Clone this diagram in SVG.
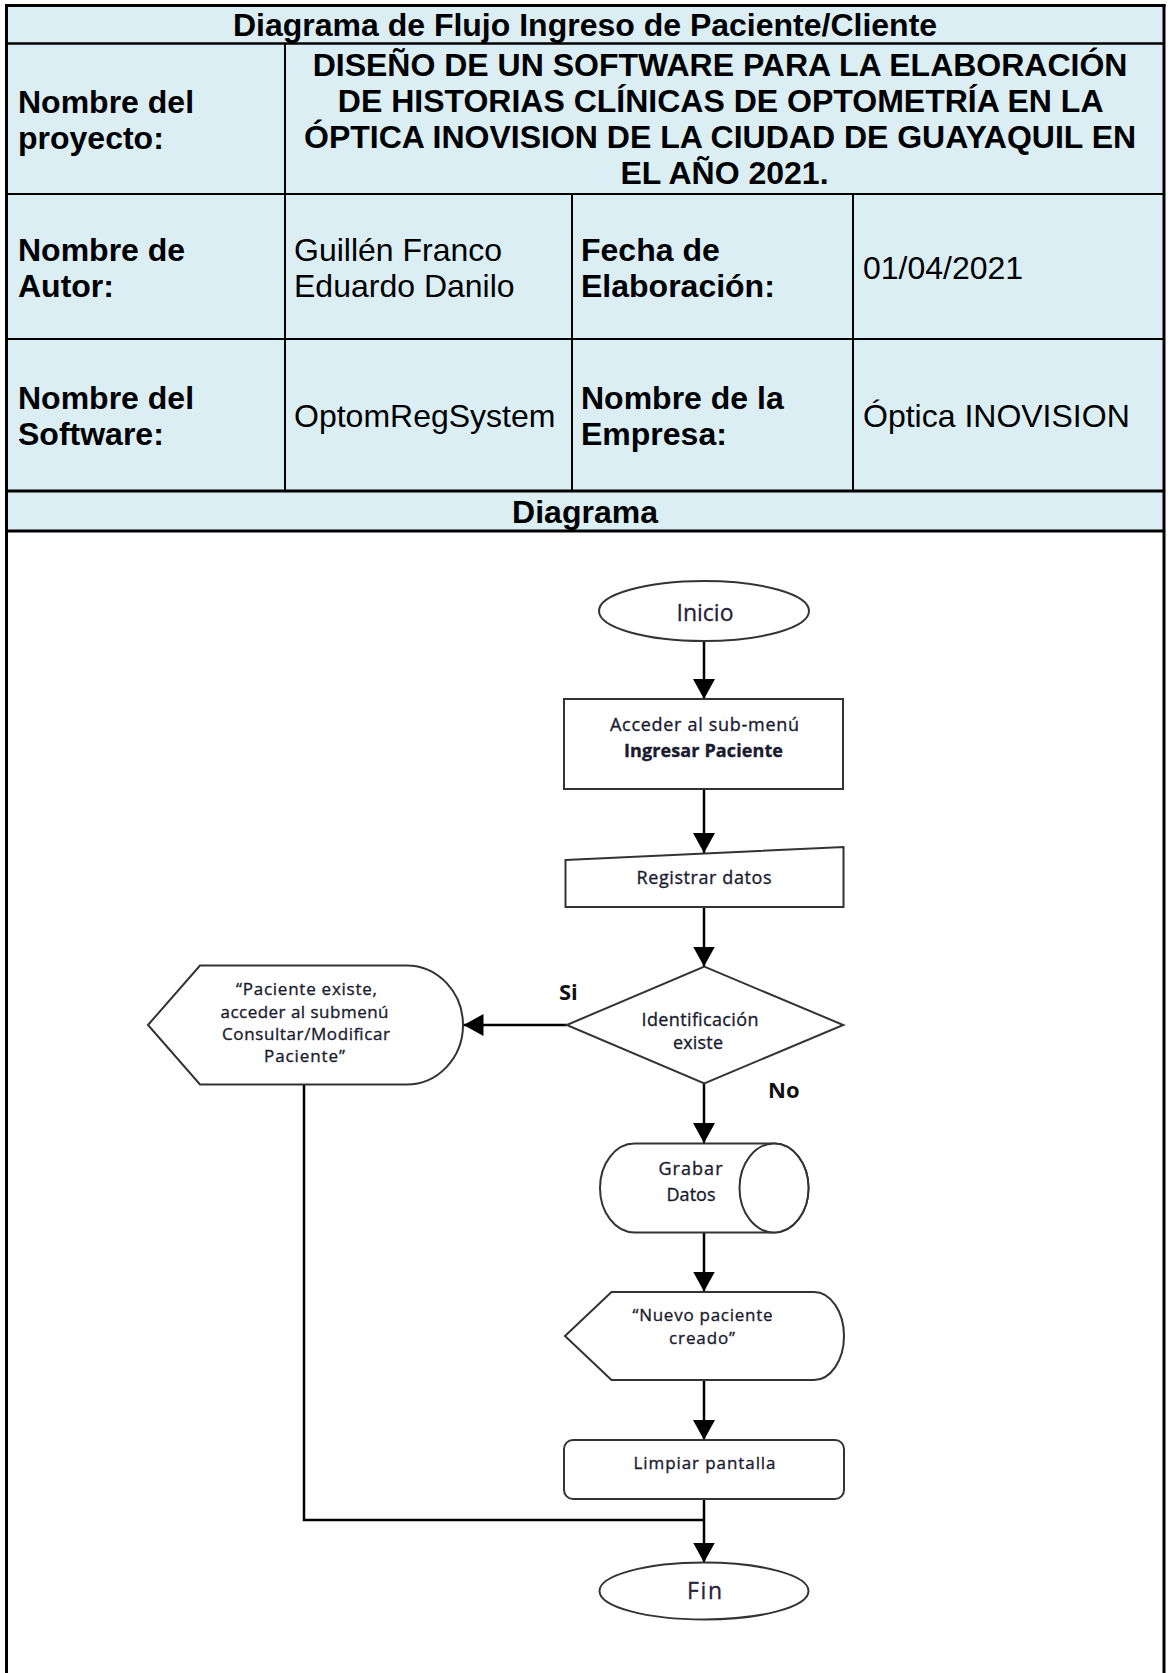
<svg xmlns="http://www.w3.org/2000/svg" width="1168" height="1673" viewBox="0 0 1168 1673">
  <style>
    .cell { fill: #DAEEF3; }
    .grid { stroke: #000; stroke-width: 2; fill: none; }
    .outer { stroke: #000; stroke-width: 3; fill: none; }
    .hb { font-family: "Liberation Sans", Arial, sans-serif; font-size: 32px; font-weight: bold; fill: #000; }
    .hr { font-family: "Liberation Sans", Arial, sans-serif; font-size: 32px; fill: #000; }
    .shape { fill: #fff; stroke: #333; stroke-width: 2; }
    .lbl { font-family: "Open Sans", "Noto Sans", sans-serif; font-size: 17px; fill: #1b1b2f; stroke: #1b1b2f; stroke-width: 0.35; text-anchor: middle; }
    .lbl17 { font-family: "Open Sans", "Noto Sans", sans-serif; font-size: 18px; fill: #1b1b2f; stroke: #1b1b2f; stroke-width: 0.35; text-anchor: middle; }
    .term { font-family: "Open Sans", "Noto Sans", sans-serif; font-size: 23px; fill: #2a2238; stroke: #2a2238; stroke-width: 0.3; text-anchor: middle; }
    .yn { font-family: "Open Sans", "Noto Sans", sans-serif; font-size: 22px; font-weight: bold; fill: #111; }
    .conn { stroke: #000; stroke-width: 2.5; fill: none; }
  </style>
  <defs>
    <marker id="arrow" viewBox="0 0 20 22" refX="20" refY="11" markerWidth="20" markerHeight="22" markerUnits="userSpaceOnUse" orient="auto">
      <path d="M0,0 L20,11 L0,22 Z" fill="#000"/>
    </marker>
  </defs>

  <rect width="1168" height="1673" fill="#fff"/>

  <!-- header table -->
  <g id="header-table">
    <rect class="cell" x="6.5" y="5.5" width="1157.5" height="525.5"/>
    <line class="grid" x1="6.5" y1="43.5" x2="1164" y2="43.5" style="stroke-width:2.5"/>
    <line class="grid" x1="6.5" y1="194" x2="1164" y2="194"/>
    <line class="grid" x1="6.5" y1="339" x2="1164" y2="339"/>
    <line class="outer" x1="6.5" y1="491" x2="1164" y2="491"/>
    <line class="outer" x1="6.5" y1="531" x2="1164" y2="531"/>
    <line class="grid" x1="285" y1="43.5" x2="285" y2="491"/>
    <line class="grid" x1="572" y1="194" x2="572" y2="491"/>
    <line class="grid" x1="853" y1="194" x2="853" y2="491"/>
    <line class="outer" x1="5" y1="5.5" x2="1165.5" y2="5.5"/>
    <line class="outer" x1="6.5" y1="4" x2="6.5" y2="1673"/>
    <line class="outer" x1="1164" y1="4" x2="1164" y2="1673"/>

    <text class="hb" x="585" y="35.5" text-anchor="middle">Diagrama de Flujo Ingreso de Paciente/Cliente</text>

    <text class="hb" x="18" y="113">Nombre del</text>
    <text class="hb" x="18" y="149">proyecto:</text>
    <text class="hb" text-anchor="middle">
      <tspan x="724.5" y="76">DISEÑO DE UN SOFTWARE PARA LA ELABORACIÓN</tspan>
      <tspan x="724.5" y="112">DE HISTORIAS CLÍNICAS DE OPTOMETRÍA EN LA</tspan>
      <tspan x="724.5" y="148">ÓPTICA INOVISION DE LA CIUDAD DE GUAYAQUIL EN</tspan>
      <tspan x="724.5" y="184">EL AÑO 2021.</tspan>
    </text>

    <text class="hb" x="18" y="261">Nombre de</text>
    <text class="hb" x="18" y="297">Autor:</text>
    <text class="hr" x="294" y="261">Guillén Franco</text>
    <text class="hr" x="294" y="297">Eduardo Danilo</text>
    <text class="hb" x="581" y="261">Fecha de</text>
    <text class="hb" x="581" y="297">Elaboración:</text>
    <text class="hr" x="863" y="279">01/04/2021</text>

    <text class="hb" x="18" y="408.5">Nombre del</text>
    <text class="hb" x="18" y="444.5">Software:</text>
    <text class="hr" x="294" y="427">OptomRegSystem</text>
    <text class="hb" x="581" y="408.5">Nombre de la</text>
    <text class="hb" x="581" y="444.5">Empresa:</text>
    <text class="hr" x="863" y="427">Óptica INOVISION</text>

    <text class="hb" x="585" y="523" text-anchor="middle">Diagrama</text>
  </g>

  <!-- flowchart connectors -->
  <g id="connectors">
    <path class="conn" d="M704,641 V699" marker-end="url(#arrow)"/>
    <path class="conn" d="M704,789 V853" marker-end="url(#arrow)"/>
    <path class="conn" d="M704,907 V966.5" marker-end="url(#arrow)"/>
    <path class="conn" d="M566.7,1025 H463.5" marker-end="url(#arrow)"/>
    <path class="conn" d="M704,1083.5 V1143" marker-end="url(#arrow)"/>
    <path class="conn" d="M704,1232.5 V1291.5" marker-end="url(#arrow)"/>
    <path class="conn" d="M704,1380 V1440" marker-end="url(#arrow)"/>
    <path class="conn" d="M704,1499 V1562.5" marker-end="url(#arrow)"/>
    <path class="conn" d="M304,1084.5 V1520 H704"/>
    <text class="yn" x="559" y="1000">Si</text>
    <text class="yn" x="768" y="1098">No</text>
  </g>

  <!-- flowchart nodes -->
  <g id="node-inicio">
    <ellipse class="shape" cx="704" cy="611" rx="105" ry="30"/>
    <text class="term" x="705" y="620.5" textLength="57" lengthAdjust="spacing">Inicio</text>
  </g>

  <g id="node-acceder">
    <rect class="shape" x="564" y="699" width="279" height="90"/>
    <text class="lbl17" x="704.5" y="730.5" textLength="189" lengthAdjust="spacing">Acceder al sub-menú</text>
    <text class="lbl17" x="703.5" y="757" font-weight="bold" textLength="159" lengthAdjust="spacing">Ingresar Paciente</text>
  </g>

  <g id="node-registrar">
    <polygon class="shape" points="565.5,860 843.5,847 843.5,907 565.5,907"/>
    <text class="lbl17" x="704" y="884" textLength="135" lengthAdjust="spacing">Registrar datos</text>
  </g>

  <g id="node-decision">
    <polygon class="shape" points="704.3,966.7 843.3,1025 704.3,1083.3 566.7,1025"/>
    <text class="lbl17" x="700" y="1026" textLength="117" lengthAdjust="spacing">Identificación</text>
    <text class="lbl17" x="698" y="1048.5" textLength="50" lengthAdjust="spacing">existe</text>
  </g>

  <g id="node-existe">
    <path class="shape" d="M148,1025 L200,965.5 L406.5,965.5 A56.5 59.5 0 0 1 406.5,1084.5 L200,1084.5 Z"/>
    <text class="lbl" x="306.5" y="995" textLength="141" lengthAdjust="spacing">“Paciente existe,</text>
    <text class="lbl" x="304.5" y="1017.5" textLength="168" lengthAdjust="spacing">acceder al submenú</text>
    <text class="lbl" x="306" y="1040" textLength="168" lengthAdjust="spacing">Consultar/Modificar</text>
    <text class="lbl" x="304.5" y="1062" textLength="81" lengthAdjust="spacing">Paciente”</text>
  </g>

  <g id="node-grabar">
    <path class="shape" d="M634.5,1143.5 L774,1143.5 A34.5 44.5 0 0 1 774,1232.5 L634.5,1232.5 A34.5 44.5 0 0 1 634.5,1143.5 Z"/>
    <ellipse class="shape" cx="774" cy="1188" rx="34.5" ry="44.5"/>
    <text class="lbl17" x="690.5" y="1174.5" textLength="64" lengthAdjust="spacing">Grabar</text>
    <text class="lbl17" x="691" y="1201" textLength="49" lengthAdjust="spacing">Datos</text>
  </g>

  <g id="node-nuevo">
    <path class="shape" d="M565,1336 L611.5,1292 L814,1292 A30 44 0 0 1 814,1380 L611.5,1380 Z"/>
    <text class="lbl" x="702.5" y="1321" textLength="140" lengthAdjust="spacing">“Nuevo paciente</text>
    <text class="lbl" x="702" y="1343.5" textLength="66" lengthAdjust="spacing">creado”</text>
  </g>

  <g id="node-limpiar">
    <rect class="shape" x="564" y="1440" width="280" height="59" rx="9"/>
    <text class="lbl" x="704.5" y="1469" textLength="142" lengthAdjust="spacing">Limpiar pantalla</text>
  </g>

  <g id="node-fin">
    <ellipse class="shape" cx="704" cy="1591" rx="104.5" ry="28.5"/>
    <text class="term" x="704.5" y="1598.5" textLength="35" lengthAdjust="spacing">Fin</text>
  </g>
</svg>
